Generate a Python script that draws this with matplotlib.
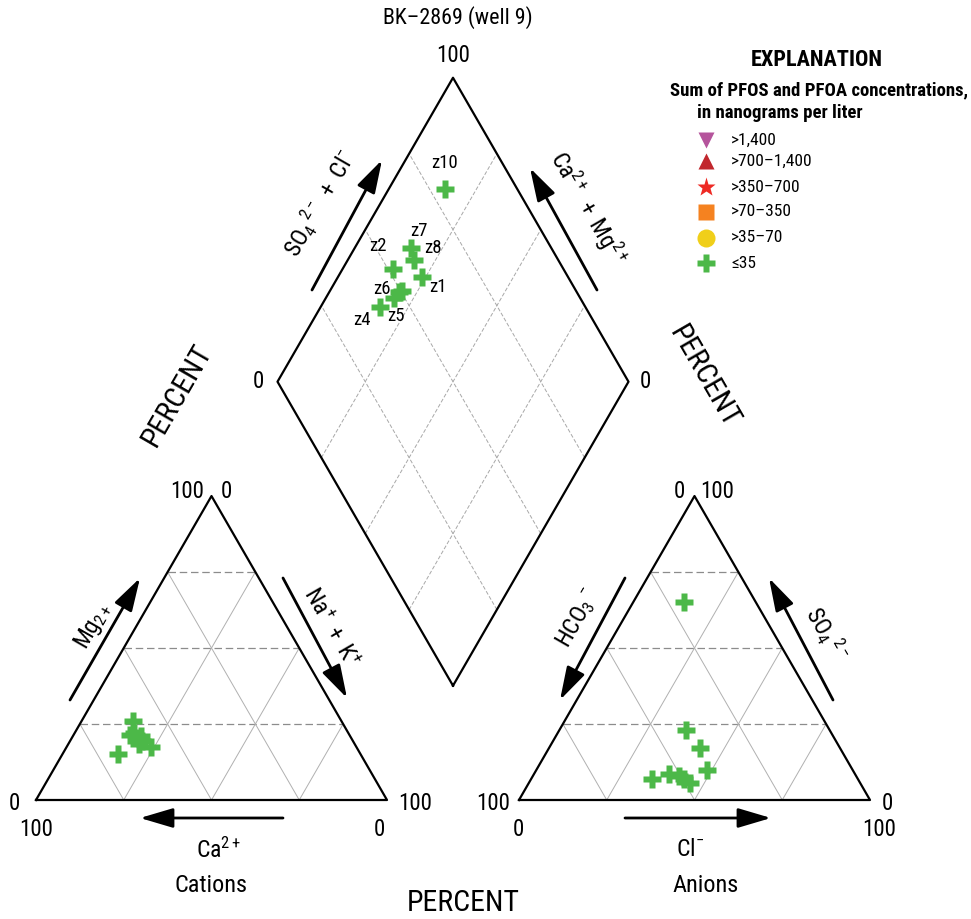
import numpy as np
import matplotlib
matplotlib.use('Agg')
import matplotlib.pyplot as plt
from matplotlib import font_manager as fm
from matplotlib.patches import FancyArrowPatch

# pick a condensed sans face if available (reference uses a condensed grotesque)
_names = {fe.name for fe in fm.fontManager.ttflist}
BASE = 'Liberation Sans'
for cand in ['Roboto Condensed', 'Archivo Narrow', 'PT Sans Narrow', 'Barlow Semi Condensed',
             'Asap Condensed']:
    if cand in _names:
        BASE = cand
        break
SCALE = 1.0 if BASE != 'Liberation Sans' else 0.86

FONT = [BASE, 'DejaVu Sans']
plt.rcParams['font.family'] = FONT
plt.rcParams['mathtext.fontset'] = 'custom'
plt.rcParams['mathtext.rm'] = BASE
plt.rcParams['mathtext.it'] = BASE + ':italic'
plt.rcParams['mathtext.bf'] = BASE + ':bold'

# ---------------- data ----------------
title = 'BK\u20132869 (well 9)'
sample_labels = ['z1', 'z2', '', 'z4', 'z5', 'z6', 'z7', 'z8', 'z10']
# cations, percent of meq
ca_pct  = [58.5, 59.5, 60.0, 61.0, 59.5, 61.5, 62.5, 60.5, 69.0]
mg_pct  = [17.5, 26.0, 19.5, 22.0, 21.0, 18.5, 21.5, 20.5, 15.0]
nak_pct = [24.0, 14.5, 20.5, 17.0, 19.5, 20.0, 16.0, 19.0, 16.0]
# anions, percent of meq
hco3_pct = [41.5, 48.5, 49.5, 58.5, 53.0, 50.5, 40.0, 41.0, 20.5]
so4_pct  = [10.0, 5.5, 7.0, 7.0, 8.5, 8.0, 17.0, 23.0, 65.0]
cl_pct   = [48.5, 46.0, 43.5, 34.5, 38.5, 41.5, 43.0, 36.0, 14.5]

legend_title = 'EXPLANATION'
legend_sub = ['Sum of PFOS and PFOA concentrations,', 'in nanograms per liter']
legend_labels = ['>1,400', '>700\u20131,400', '>350\u2013700', '>70\u2013350', '>35\u201370', '\u226435']
legend_markers = ['v', '^', '*', 's', 'o', 'P']
legend_colors = ['#b5549c', '#c1272d', '#ee2a24', '#f58220', '#f0cf1a', '#4cb848']
legend_sizes = [11, 11, 14, 12, 13, 13]
point_color = '#4cb848'

# ---------------- geometry ----------------
W, HH = 971, 919
S = 351.0            # px per triangle side
X0, Y0 = 36.0, 800.0  # cation triangle left vertex in px
h = np.sqrt(3) / 2
GAP = 132.0 / S
AOFF = 1 + GAP


def P(px, py):
    return ((px - X0) / S, (Y0 - py) / S)


fig = plt.figure(figsize=(W / 100, HH / 100), dpi=100)
ax = fig.add_axes([0, 0, 1, 1])
ax.set_xlim(-X0 / S, (W - X0) / S)
ax.set_ylim((Y0 - HH) / S, Y0 / S)
ax.axis('off')

u1 = np.array([-0.5, h])
u2 = np.array([0.5, h])
B = np.array([1 + GAP / 2, GAP * h])

grid_h = dict(color='#8c8c8c', lw=0.9, ls=(0, (6, 3)), zorder=1)
grid_d = dict(color='#b0b0b0', lw=0.7, zorder=1)
grid_dm = dict(color='#a8a8a8', lw=0.7, ls=(0, (4, 2)), zorder=1)
frame = dict(color='black', lw=1.6, zorder=3)

for off in (0.0, AOFF):
    tri = np.array([[off, 0], [off + 1, 0], [off + 0.5, h], [off, 0]])
    for f in (0.25, 0.5, 0.75):
        ax.plot([off + f * 0.5, off + 1 - f * 0.5], [f * h, f * h], **grid_h)
        ax.plot([off + f, off + f + (1 - f) * 0.5], [0, (1 - f) * h], **grid_d)
        ax.plot([off + f, off + f * 0.5], [0, f * h], **grid_d)
    ax.plot(tri[:, 0], tri[:, 1], **frame)

dia = np.array([B, B + u1, B + u1 + u2, B + u2, B])
for f in (0.25, 0.5, 0.75):
    a0 = B + f * u1
    ax.plot([a0[0], (a0 + u2)[0]], [a0[1], (a0 + u2)[1]], **grid_dm)
    b0 = B + f * u2
    ax.plot([b0[0], (b0 + u1)[0]], [b0[1], (b0 + u1)[1]], **grid_dm)
ax.plot(dia[:, 0], dia[:, 1], **frame)

# ---------------- points ----------------
ca = np.array(ca_pct) / 100
mg = np.array(mg_pct) / 100
nak = np.array(nak_pct) / 100
so4 = np.array(so4_pct) / 100
cl = np.array(cl_pct) / 100

cx = nak + 0.5 * mg
cy = mg * h
axx = AOFF + cl + 0.5 * so4
ayy = so4 * h
a = ca + mg
b = so4 + cl
dx = B[0] + a * u1[0] + b * u2[0]
dy = B[1] + a * u1[1] + b * u2[1]

mk = dict(marker='P', ms=13.5, mfc=point_color, mec='none', ls='none', zorder=5)
ax.plot(cx, cy, **mk)
ax.plot(axx, ayy, **mk)
ax.plot(dx, dy, **mk)

label_offsets = {'z10': (-1, 26), 'z7': (8, 17), 'z8': (19, 12), 'z2': (-15, 23),
                 'z1': (16, -10), 'z6': (-18, 3), 'z5': (2, -18), 'z4': (-18, -13)}
for lab, x, y in zip(sample_labels, dx, dy):
    if lab:
        ax.annotate(lab, (x, y), xytext=label_offsets[lab], textcoords='offset pixels',
                    ha='center', va='center', fontsize=13.5 * SCALE, zorder=6)

# ---------------- text ----------------
TK = 16.5


def T(px, py, s, size=TK, rot=0, **kw):
    x, y = P(px, py)
    ax.text(x, y, s, fontsize=size * SCALE, rotation=rot, ha=kw.pop('ha', 'center'),
            va=kw.pop('va', 'center'), rotation_mode='anchor', **kw)


T(458, 18, title, size=15.8)
T(453, 56, '100')
T(258, 382, '0')
T(645, 382, '0')
# cation ticks
T(187, 492, '100'); T(226, 492, '0')
T(14, 803, '0'); T(36, 829, '100')
T(415, 803, '100'); T(379, 829, '0')
# anion ticks
T(679, 492, '0'); T(717, 492, '100')
T(493, 803, '100'); T(518, 829, '0')
T(887, 803, '0'); T(879, 829, '100')

T(463, 903, 'PERCENT', size=21.5)
T(177, 395, 'PERCENT', size=21.5, rot=60)
T(704, 377, 'PERCENT', size=21.5, rot=-60)
T(211, 886, 'Cations', size=17.5)
T(706, 886, 'Anions', size=17.5)

T(218, 850, r'$\mathrm{Ca^{2+}}$', size=17)
T(690, 850, r'$\mathrm{Cl^{-}}$', size=17)
T(320, 203, r'$\mathrm{SO_4\,^{2-}\ +\ Cl^{-}}$', size=17, rot=60)
T(588, 208, r'$\mathrm{Ca^{2+}\ +\ Mg^{2+}}$', size=17, rot=-60)
T(93, 626, r'$\mathrm{Mg_{2+}}$', size=17, rot=60)
T(330, 628, r'$\mathrm{Na^{+}\ +\ K^{+}}$', size=17, rot=-60)
T(578, 618, r'$\mathrm{HCO_3\,^{-}}$', size=17, rot=60)
T(826, 634, r'$\mathrm{SO_4\,^{2-}}$', size=17, rot=-60)

# ---------------- arrows ----------------
arrows = [((312, 290), (382, 160)), ((597, 290), (530, 168)),
          ((70, 700), (140, 578)), ((283, 578), (347, 698)),
          ((625, 578), (560, 700)), ((833, 700), (769, 578)),
          ((283, 818), (140, 818)), ((625, 818), (771, 818))]
for s0, s1 in arrows:
    ar = FancyArrowPatch(P(*s0), P(*s1), arrowstyle='-|>,head_length=1.35,head_width=0.4',
                         mutation_scale=15, color='black', lw=2.0, shrinkA=0, shrinkB=0, zorder=4)
    ax.add_patch(ar)

# ---------------- legend ----------------
T(817, 60, legend_title, size=16, fontweight='bold')
T(670, 90, legend_sub[0], size=13.5, fontweight='bold', ha='left')
T(697, 113, legend_sub[1], size=13.5, fontweight='bold', ha='left')
leg_y = [140, 161, 187, 212, 238, 263]
for yy, lab, m, c, ms in zip(leg_y, legend_labels, legend_markers, legend_colors, legend_sizes):
    x, y = P(706, yy)
    ax.plot([x], [y], marker=m, ms=ms, mfc=c, mec='none', ls='none')
    T(731, yy, lab, size=12.5, ha='left')

fig.savefig('out.png', dpi=100)
